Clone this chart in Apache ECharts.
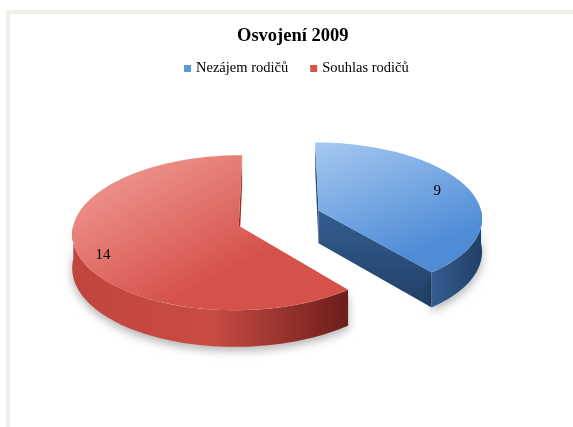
<!DOCTYPE html>
<html>
<head>
<meta charset="utf-8">
<script src="https://cdn.jsdelivr.net/npm/echarts@6/dist/echarts.min.js"></script>
<style>
html, body { margin: 0; padding: 0; background: #ffffff; }
#chart { width: 573px; height: 427px; }
</style>
</head>
<body>
<div id="chart"></div>
<script>
// data
const categories = ["Nezájem rodičů", "Souhlas rodičů"];
const values = [9, 14];

// look of the fake 3D pie (Excel style)
const PX = 279, PY = 218, RX = 164, RY = 75.5, DEPTH = 33, PERSP = 0.09;
const EXPLODE_X = 0.258, EXPLODE_Z = 0.3;
const LABEL_R = 0.8;
const labelNudge = [[0, 0], [-7, 8]];

const palette = [
  {
    legend: "#5f97dc",
    top: ["#a6c9f1", "#4f8cd6"],
    side: ["#335e90", "#213f65"],
  },
  {
    legend: "#d9544c",
    top: ["#f4a39d", "#d5524a"],
    side: ["#c0453c", "#c94c43", "#6c1d1a"],
  },
];

const total = values.reduce((a, b) => a + b, 0);

const sliceAngles = (idx) => {
  let start = 0;
  for (let i = 0; i < idx; i++) start += (values[i] / total) * 360;
  return [start, start + (values[idx] / total) * 360];
};

const rad = (d) => (d * Math.PI) / 180;

// X to the right, Z toward the viewer, h = 0 top face / 1 bottom face
const project = (X, Z, h) => {
  const s = 1 / (1 - PERSP * Z);
  return [PX + X * RX * s, PY + Z * RY * s + h * DEPTH * s];
};

const renderSlice = (params, api) => {
  const idx = params.seriesIndex;
  const [a0, a1] = sliceAngles(idx);
  const mid = rad((a0 + a1) / 2);
  const ox = EXPLODE_X * Math.sin(mid);
  const oz = -EXPLODE_Z * Math.cos(mid);
  const pt = (deg, r, h) => project(ox + r * Math.sin(rad(deg)), oz - r * Math.cos(rad(deg)), h);
  const arc = (from, to, h) => {
    const pts = [];
    const n = Math.max(2, Math.ceil((to - from) / 2));
    for (let i = 0; i <= n; i++) pts.push(pt(from + ((to - from) * i) / n, 1, h));
    return pts;
  };
  const pal = palette[idx];
  const children = [];

  // radial walls that face the viewer
  const c = pt(0, 0, 0);
  const m = pt((a0 + a1) / 2, 0.5, 0);
  [a0, a1].forEach((a) => {
    const p = pt(a, 1, 0);
    const dx = p[0] - c[0], dy = p[1] - c[1];
    if (Math.abs(dx) < 0.5) return;
    const crossM = dx * (m[1] - c[1]) - dy * (m[0] - c[0]);
    if (Math.sign(dx) === Math.sign(crossM)) return;
    children.push({
      type: "polygon",
      shape: { points: [c, p, pt(a, 1, 1), pt(0, 0, 1)] },
      style: {
        fill: new echarts.graphic.LinearGradient(0, 0, 0, 1, [
          { offset: 0, color: pal.side[0] },
          { offset: 1, color: pal.side[pal.side.length - 1] },
        ]),
      },
    });
  });

  // outer wall, front half only
  const f0 = Math.max(a0, 90), f1 = Math.min(a1, 270);
  if (f1 > f0) {
    const topArc = arc(f0, f1, 0);
    const botArc = arc(f0, f1, 1).reverse();
    const stops = pal.side.length === 3
      ? [
          { offset: 0, color: pal.side[0] },
          { offset: 0.5, color: pal.side[1] },
          { offset: 1, color: pal.side[2] },
        ]
      : [
          { offset: 0, color: pal.side[0] },
          { offset: 1, color: pal.side[1] },
        ];
    children.push({
      type: "polygon",
      shape: { points: topArc.concat(botArc) },
      style: {
        fill: new echarts.graphic.LinearGradient(0, 0, 1, 0, stops),
        shadowBlur: 10,
        shadowColor: "rgba(0,0,0,0.3)",
        shadowOffsetY: 4,
      },
    });
  }

  // top face
  children.push({
    type: "polygon",
    shape: { points: [c].concat(arc(a0, a1, 0)) },
    style: {
      fill: new echarts.graphic.LinearGradient(0, 0, 0.3, 1, [
        { offset: 0, color: pal.top[0] },
        { offset: 1, color: pal.top[1] },
      ]),
    },
  });

  // value label
  const lp = pt((a0 + a1) / 2, LABEL_R, 0);
  children.push({
    type: "text",
    x: lp[0] + labelNudge[idx][0],
    y: lp[1] + labelNudge[idx][1],
    style: {
      text: String(api.value(0)),
      fill: "#000000",
      font: "15px 'Liberation Serif'",
      align: "center",
      verticalAlign: "middle",
    },
  });

  return { type: "group", children };
};

const chart = echarts.init(document.getElementById("chart"));
const option = {
  backgroundColor: "#ffffff",
  animation: false,
  title: {
    text: "Osvojení 2009",
    left: 232,
    top: 22,
    textStyle: {
      fontFamily: "Liberation Serif",
      fontSize: 18.5,
      fontWeight: "bold",
      color: "#000000",
    },
  },
  legend: {
    data: categories,
    left: 179,
    top: 56,
    icon: "rect",
    itemWidth: 7,
    itemHeight: 7,
    itemGap: 22,
    selectedMode: false,
    textStyle: {
      fontFamily: "'Liberation Serif', serif",
      fontSize: 14.5,
      color: "#000000",
    },
  },
  graphic: [
    {
      type: "rect",
      shape: { x: 8, y: 12, width: 620, height: 480 },
      style: { fill: null, stroke: "#efefe8", lineWidth: 4 },
      silent: true,
    },
  ],
  series: categories.map((name, i) => ({
    name,
    type: "custom",
    coordinateSystem: "none",
    itemStyle: { color: palette[i].legend },
    renderItem: renderSlice,
    data: [[values[i]]],
    silent: true,
  })),
};
chart.setOption(option);
</script>
</body>
</html>
